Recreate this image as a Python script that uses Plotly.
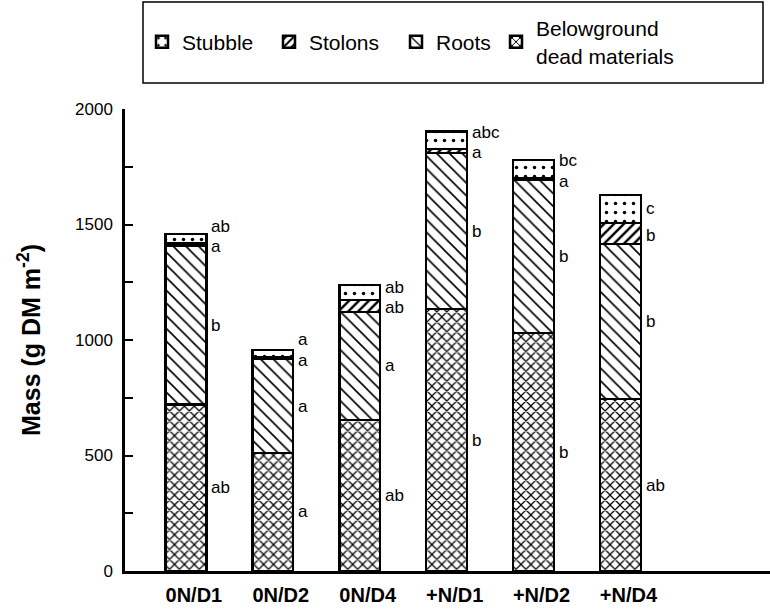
import plotly.graph_objects as go

categories = ["0N/D1", "0N/D2", "0N/D4", "+N/D1", "+N/D2", "+N/D4"]
dead = [720, 511, 654, 1134, 1030, 744]
roots = [687, 406, 467, 675, 663, 672]
stolons = [10, 8, 52, 18, 6, 91]
stubble = [42, 32, 65, 75, 80, 121]

letters_dead = ["ab", "a", "ab", "b", "b", "ab"]
letters_roots = ["b", "a", "a", "b", "b", "b"]
letters_stolons = ["a", "a", "ab", "a", "a", "b"]
letters_stubble = ["ab", "a", "ab", "abc", "bc", "c"]

FONT = "Liberation Sans, Arial, Helvetica, sans-serif"
BAR_W = 0.47

xs = list(range(len(categories)))

fig = go.Figure()
series = [
    ("Belowground<br>dead materials", dead, "x", 7, 0.32, "legend2"),
    ("Roots", roots, "\\", 9, 0.18, "legend"),
    ("Stolons", stolons, "/", 7, 0.35, "legend"),
    ("Stubble", stubble, ".", 9, 0.12, "legend"),
]
for name, vals, shape, size, sol, leg in series:
    fig.add_trace(go.Bar(
        x=xs, y=vals, name=name, width=BAR_W, legend=leg,
        marker=dict(
            color="white",
            line=dict(color="black", width=2.5),
            pattern=dict(shape=shape, size=size, solidity=sol,
                         fgcolor="black", bgcolor="white", fillmode="replace"),
        ),
    ))

# significance letters, placed beside each segment
annos = []
for i in xs:
    d_mid = dead[i] / 2
    r_mid = dead[i] + roots[i] / 2
    s_mid = dead[i] + roots[i] + stolons[i] / 2
    st_mid = dead[i] + roots[i] + stolons[i] + stubble[i] / 2
    s_lab = s_mid - 8
    st_lab = max(st_mid, s_lab + 88)
    for yv, txt in [(d_mid, letters_dead[i]), (r_mid, letters_roots[i]),
                    (s_lab, letters_stolons[i]), (st_lab, letters_stubble[i])]:
        annos.append(dict(x=i + BAR_W / 2, y=yv, xref="x", yref="y", text=txt,
                          showarrow=False, xanchor="left", yanchor="middle",
                          xshift=3, font=dict(family=FONT, size=17, color="black")))

leg_common = dict(orientation="h", traceorder="reversed", yanchor="middle",
                  y=(571 - 42) / 462, xanchor="left",
                  font=dict(family=FONT, size=21, color="black"),
                  bgcolor="rgba(0,0,0,0)", borderwidth=0)

fig.update_layout(
    width=770, height=610,
    margin=dict(l=125, r=0, t=109, b=39),
    paper_bgcolor="white", plot_bgcolor="white",
    barmode="stack",
    font=dict(family=FONT, color="black"),
    showlegend=True,
    legend=dict(x=(142 - 125) / 645, entrywidth=82, entrywidthmode="pixels", **leg_common),
    legend2=dict(x=(496 - 125) / 645, **leg_common),
    annotations=annos,
    shapes=[dict(type="rect", xref="paper", yref="paper",
                 x0=(143 - 125) / 645, x1=(763 - 125) / 645,
                 y0=(571 - 83) / 462, y1=(571 - 2) / 462,
                 line=dict(color="black", width=1.5))],
)
fig.update_xaxes(
    range=[-0.7, 6.72], tickvals=xs, ticktext=categories,
    showline=True, linecolor="black", linewidth=2.5, ticks="",
    showgrid=False, zeroline=False, ticklabelstandoff=4, ticklabelshift=8,
    tickfont=dict(family=FONT, size=20, color="black", weight="bold"),
)
fig.update_yaxes(
    range=[0, 2000], dtick=500,
    showline=True, linecolor="black", linewidth=2.5,
    ticks="inside", ticklen=8, tickwidth=2, tickcolor="black",
    minor=dict(dtick=250, ticks="inside", ticklen=8, tickwidth=2, tickcolor="black"),
    showgrid=False, zeroline=False, ticklabelstandoff=6,
    tickfont=dict(family=FONT, size=17, color="black"),
    title=dict(text="Mass (g DM m<sup>-2</sup>)", standoff=28,
               font=dict(family=FONT, size=25, color="black", weight="bold")),
)

fig.write_html("out.html")
